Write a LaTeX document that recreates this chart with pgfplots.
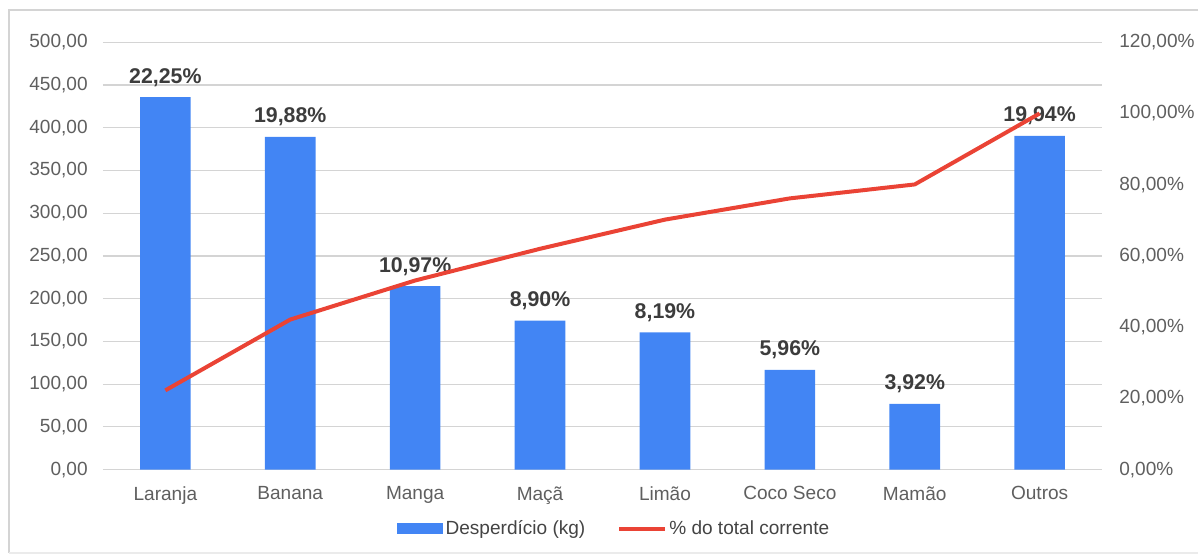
\documentclass[border=0pt]{standalone}
\usepackage{pgfplots}
\pgfplotsset{compat=1.18}
\usepackage{fontspec}
\setmainfont{Liberation Sans}
\definecolor{barblue}{HTML}{4285F4}
\definecolor{lineRed}{HTML}{EA4335}
\definecolor{labelgray}{HTML}{5F5F5F}
\definecolor{valgray}{HTML}{3C3C3C}
\definecolor{legendgray}{HTML}{444444}
\pgfplotstableread{
x y p
0 435.7 22.25
1 389.3 19.88
2 214.8 10.97
3 174.3 8.90
4 160.4 8.19
5 116.7 5.96
6 76.8 3.92
7 390.4 19.94
}\bars
\pgfplotstableread{
x c
0 22.25
1 42.13
2 53.10
3 62.00
4 70.19
5 76.15
6 80.07
7 100.00
}\cumul
\begin{document}
\begin{tikzpicture}[x=1pt,y=1pt]
\path (0,0) rectangle (899.25,416.25);
\draw[color=black!17, line width=1.5pt] (899.25,408.75) -- (6.75,408.75) -- (6.75,1.2);
\draw[color=black!8, line width=1pt] (6.75,1.2) -- (899.25,1.2);
\begin{axis}[
  at={(77.25pt,63.75pt)}, anchor=south west,
  scale only axis, width=750pt, height=320.8pt,
  xmin=-0.5, xmax=7.5, ymin=0, ymax=500,
  axis line style={draw=none},
  ytick={0,50,...,500}, ymajorgrids,
  grid style={color=black!17, line width=0.9pt},
  xtick={0,...,7},
  xticklabels={Laranja,Banana,Manga,Maçã,Limão,Coco Seco,Mamão,Outros},
  major tick length=0pt,
  /pgf/number format/assume math mode=true,
  tick label style={font=\fontsize{14.3}{17}\selectfont, text=labelgray},
  yticklabel style={anchor=east, inner sep=0pt, xshift=-11.25pt},
  xticklabel style={anchor=north, inner sep=0pt, yshift=-12.5pt},
  yticklabel={\pgfmathprintnumber[fixed,fixed zerofill,precision=2,use comma]{\tick}},
  clip=false,
]
\addplot[ybar, bar width=38pt, fill=barblue, draw=none,
  point meta=explicit,
  nodes near coords={\pgfmathprintnumber[fixed,fixed zerofill,precision=2,use comma]{\pgfplotspointmeta}\%},
  nodes near coords style={font=\bfseries\fontsize{16}{19}\selectfont, text=valgray, anchor=base, inner sep=0pt, yshift=10.5pt}]
  table[x=x, y=y, meta=p] {\bars};
\end{axis}
\begin{axis}[
  at={(77.25pt,63.75pt)}, anchor=south west,
  scale only axis, width=750pt, height=320.8pt,
  xmin=-0.5, xmax=7.5, ymin=0, ymax=120,
  axis line style={draw=none},
  xtick=\empty,
  ytick={0,20,...,120},
  yticklabel pos=right,
  major tick length=0pt,
  /pgf/number format/assume math mode=true,
  tick label style={font=\fontsize{14.3}{17}\selectfont, text=labelgray},
  yticklabel style={anchor=west, inner sep=0pt, xshift=12.75pt},
  yticklabel={\pgfmathprintnumber[fixed,fixed zerofill,precision=2,use comma]{\tick}\%},
  legend style={draw=none, fill=none, at={(0.512,-0.138)}, anchor=center,
    font=\fontsize{14.3}{17}\selectfont, text=legendgray,
    /tikz/every even column/.append style={column sep=22pt}},
  legend columns=2,
  legend cell align=left,
  clip=false,
]
\addlegendimage{legend image code/.code={\fill[barblue] (0pt,-3.75pt) rectangle (34pt,3.75pt);}}
\addlegendentry{Desperdício (kg)}
\addplot[lineRed, line width=3pt, line join=round,
  legend image code/.code={\draw[lineRed, line width=3pt] (0pt,0pt) -- (34pt,0pt);}]
  table[x=x, y=c] {\cumul};
\addlegendentry{\% do total corrente}
\end{axis}
\end{tikzpicture}
\end{document}
